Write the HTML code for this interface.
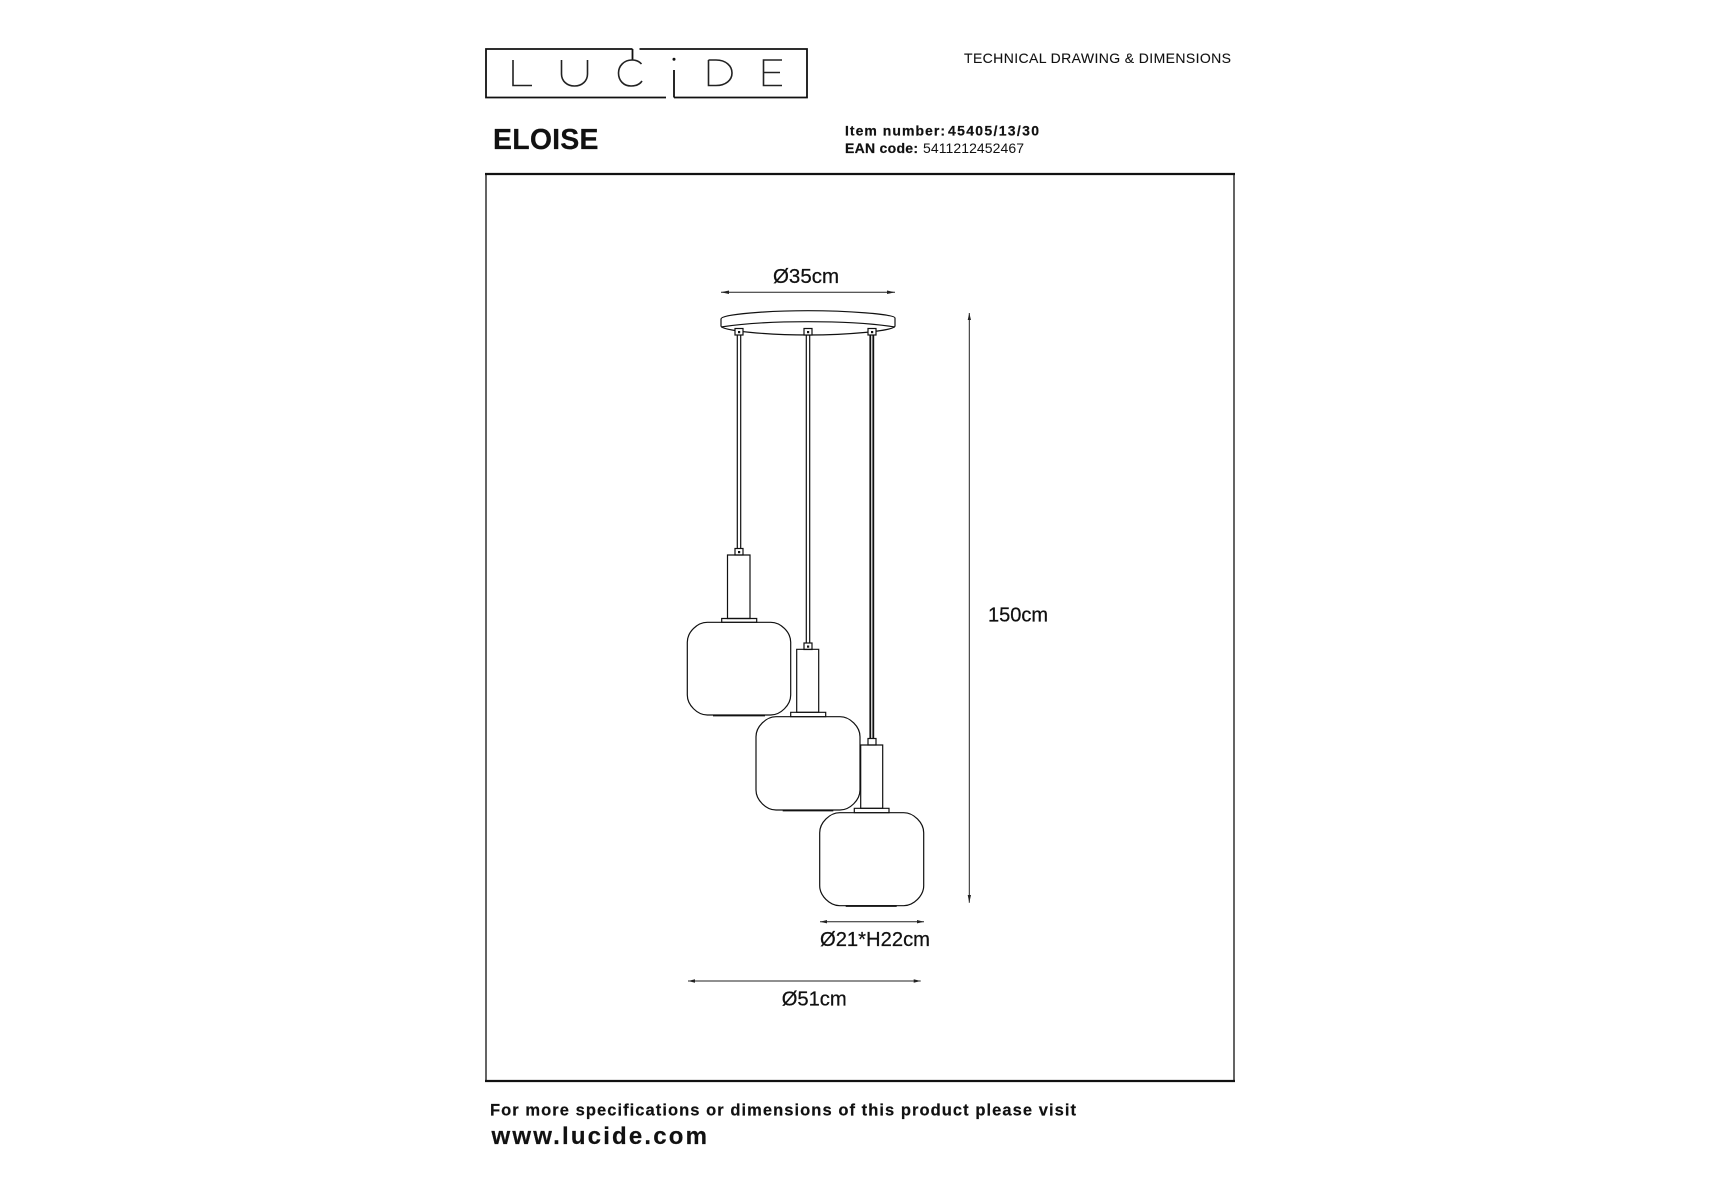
<!DOCTYPE html>
<html><head><meta charset="utf-8"><style>
html,body{margin:0;padding:0;background:#fff}
svg{display:block}
text{font-family:"Liberation Sans",sans-serif;fill:#111}
.b{font-weight:bold;stroke:#111;stroke-width:.2}
.t{stroke:#111;stroke-width:.25}
.l{fill:none;stroke:#111;stroke-width:1.2}
.d{fill:none;stroke:#222;stroke-width:1}
.a{fill:#222;stroke:none}
</style></head><body>
<svg width="1715" height="1200" viewBox="0 0 1715 1200" xmlns="http://www.w3.org/2000/svg">
<rect width="1715" height="1200" fill="#fff"/>
<!-- logo -->
<path d="M632.5,49H486V97.500H666M674,97.500H807V49H639.500M632.500,49V60.500M674,70V97.500" fill="none" stroke="#111" stroke-width="1.8"/>
<circle cx="674" cy="59.300" r="1.500" fill="#111"/>
<g fill="none" stroke="#222" stroke-width="1.600">
<path d="M513,60V85.500H532"/>
<path d="M561.500,60V74C561.500,81 567,86 574.500,86S587.500,81 587.500,74V60"/>
<path d="M641.500,64C639,61 635,60 632,60C624,60 618.500,66 618.500,73C618.500,81 624,86 631,86C636,86 640,84 642,81"/>
<path d="M708.500,60V85.500H716C726,85.500 732,80 732,73S726,60 716,60H708.500"/>
<path d="M782,60H763.500V85.500H782M763.500,72.500H780"/>
</g>
<text class="t" style="stroke-width:.1" x="964" y="63" font-size="14" textLength="267" lengthAdjust="spacing">TECHNICAL DRAWING &amp; DIMENSIONS</text>
<text class="b" x="493" y="149" font-size="28.500" textLength="105.500" lengthAdjust="spacing">ELOISE</text>
<text class="b" x="845" y="135.700" font-size="14" textLength="100" lengthAdjust="spacing">Item number:</text>
<text class="b" x="948" y="135.700" font-size="14" textLength="91" lengthAdjust="spacing">45405/13/30</text>
<text class="b" x="845" y="153" font-size="14" textLength="73" lengthAdjust="spacing">EAN code:</text>
<text x="923" y="153" font-size="14" textLength="101" lengthAdjust="spacing">5411212452467</text>
<!-- frame -->
<path d="M486,174V1081M1234,174V1081" fill="none" stroke="#111" stroke-width="1.300"/>
<path d="M485,174H1235M485,1081H1235" fill="none" stroke="#111" stroke-width="2.200"/>
<!-- footer -->
<text class="b" x="490" y="1115.700" font-size="16.500" textLength="586" lengthAdjust="spacing">For more specifications or dimensions of this product please visit</text>
<text class="b" x="491.500" y="1144" font-size="24" textLength="215.500" lengthAdjust="spacing">www.lucide.com</text>
<!-- canopy -->
<path class="l" d="M721,319C721,314 770,310.700 808,310.700C846,310.700 895,314 895,318V326C895,331 846,335 808,335C770,335 721,331 721,326Z"/>
<path class="l" d="M721,327C740,324 770,321.700 808,321.700C846,321.700 876,324 895,327"/>
<!-- cables -->
<path class="l" d="M737.300,335V548M740.700,335V548M806.300,335V643M809.700,335V643"/>
<path d="M870.300,335V738M873.300,335V738" fill="none" stroke="#111" stroke-width="1.800"/>
<!-- mounts -->
<g fill="#fff" stroke="#111" stroke-width="1.200">
<rect x="735" y="328.500" width="8" height="6.500"/><rect x="804" y="328.500" width="8" height="6.500"/><rect x="868" y="328.500" width="8" height="6.500"/>
<rect x="735" y="548.500" width="8" height="6.500"/><rect x="804" y="643" width="8" height="6.500"/><rect x="868" y="738.500" width="8" height="6.500"/>
</g>
<g fill="#111"><rect x="738" y="331" width="2.200" height="2.200"/><rect x="807" y="331" width="2.200" height="2.200"/><rect x="871" y="331" width="2.200" height="2.200"/><rect x="738" y="551" width="2.200" height="2.200"/><rect x="807" y="645.500" width="2.200" height="2.200"/></g>
<!-- left lamp -->
<path class="l" d="M727.500,555H750V618.500H727.500Z"/>
<path class="l" d="M721.700,618.500H756.700V622.300H721.700Z"/>
<path class="l" d="M707.300,622.300H770.700C780.700,622.300 790.700,632 790.700,642.300V695C790.700,705 780.700,715 770.700,715H707.300C697.300,715 687.300,705 687.300,695V642.300C687.300,632 697.300,622.300 707.300,622.300Z"/>
<path d="M713,715.500H765" stroke="#111" stroke-width="1.800"/>
<!-- middle lamp -->
<path class="l" d="M796.700,649.300H818.700V712.300H796.700Z"/>
<path class="l" d="M790.700,712.300H825.700V716.700H790.700Z"/>
<path class="l" d="M776,716.700H840C850,716.700 860,726.700 860,736.700V790C860,800 850,810 840,810H776C766,810 756,800 756,790V736.700C756,726.700 766,716.700 776,716.700Z"/>
<path d="M782.700,810.500H833.300" stroke="#111" stroke-width="1.800"/>
<!-- right lamp -->
<path class="l" d="M860.700,745H882.700V808.300H860.700Z"/>
<path class="l" d="M854.300,808.300H889V812.700H854.300Z"/>
<path class="l" d="M839.700,812.700H903.700C913.700,812.700 923.700,822.700 923.700,832.700V885.700C923.700,895.700 913.700,905.700 903.700,905.700H839.700C829.700,905.700 819.700,895.700 819.700,885.700V832.700C819.700,822.700 829.700,812.700 839.700,812.700Z"/>
<path d="M845.700,906H896.700" stroke="#111" stroke-width="1.800"/>
<!-- dimensions -->
<path class="d" d="M721,292.300H895M969.300,313V902.700M820,921.700H924M688,981H920.700"/>
<path class="a" d="M721,292.300L729,290.500V294ZM895,292.300L887,290.500V294ZM820,921.700L827,920V923.400ZM924,921.700L917,920V923.400ZM688,981L695,979.300V982.700ZM920.700,981L913.700,979.300V982.700ZM969.300,313L967.700,320H971ZM969.300,902.700L967.700,895H971Z"/>
<text class="t" x="773" y="283" font-size="20.500" textLength="66" lengthAdjust="spacingAndGlyphs">Ø35cm</text>
<text class="t" x="988" y="621.500" font-size="20.500" textLength="60" lengthAdjust="spacingAndGlyphs">150cm</text>
<text class="t" x="820" y="946" font-size="20.500" textLength="110" lengthAdjust="spacingAndGlyphs">Ø21*H22cm</text>
<text class="t" x="781.700" y="1005.500" font-size="20.500" textLength="65" lengthAdjust="spacingAndGlyphs">Ø51cm</text>
</svg>
</body></html>
